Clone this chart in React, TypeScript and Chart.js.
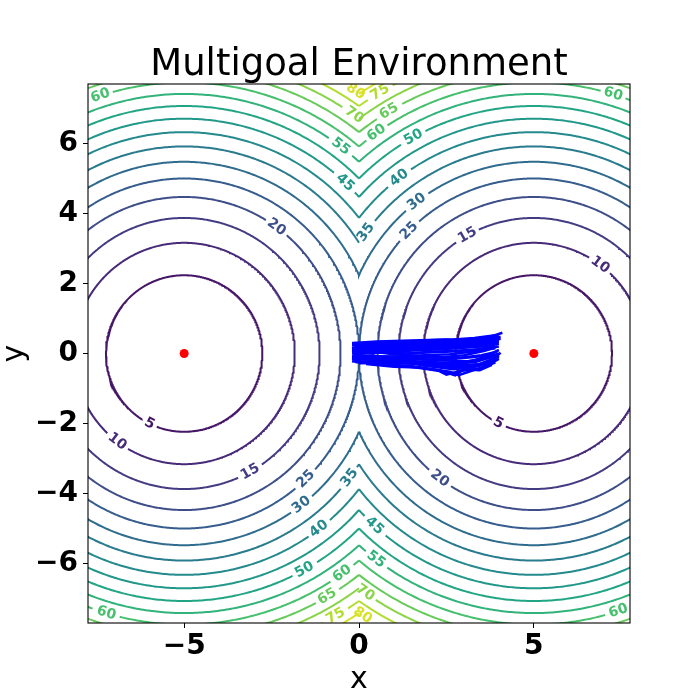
import React, { useEffect, useRef } from 'react';
import { Chart, registerables } from 'chart.js';

Chart.register(...registerables);

// ---------- data ----------
const TITLE = 'Multigoal Environment';
const X_LABEL = 'x';
const Y_LABEL = 'y';
const X_MIN = -7.75;
const X_MAX = 7.75;
const Y_MIN = -7.7;
const Y_MAX = 7.7;
const X_TICKS = [-5, 0, 5];
const Y_TICKS = [-6, -4, -2, 0, 2, 4, 6];

const GOALS_X = [-5, 5];
const GOALS_Y = [0, 0];

const LEVELS = [5, 10, 15, 20, 25, 30, 35, 40, 45, 50, 55, 60, 65, 70, 75, 80];
const CMAP_MIN = 0;
const CMAP_MAX = 85;

// [level, goal x, polar angle around that goal in degrees]
const CONTOUR_LABELS: [number, number, number][] = [
  [60, -5, 108], [80, -5, 56.8], [75, 5, 120.5], [70, -5, 54.5], [65, 5, 120.9],
  [60, 5, 125.5], [55, -5, 52.9], [50, 5, 119.1], [45, -5, 46.7], [40, 5, 127.5],
  [35, 5, 144.2], [30, 5, 127.7], [25, 5, 135.5], [15, 5, 119.4], [20, -5, 53.8],
  [10, 5, 53.2], [60, 5, 73],
  [15, -5, -60.8], [25, -5, -45.9], [35, -5, -36.9], [20, 5, -127], [30, -5, -52.2],
  [40, -5, -52.4], [45, 5, -132.8], [50, -5, -60.9], [55, 5, -127.5], [60, -5, -54.3],
  [65, -5, -59.5], [70, 5, -125.2], [75, -5, -60], [80, 5, -123.2], [5, -5, -116.4],
  [10, -5, -127.3], [60, -5, -106.7], [5, 5, -117], [60, 5, -71.8],
];

const TRAJ_1 = [[-0.2, 0.05], [0.4, 0.12], [1.0, 0.16], [1.6, 0.2], [2.2, 0.25], [2.8, 0.3], [3.4, 0.36], [4.1, 0.59]];
const TRAJ_2 = [[-0.18, -0.02], [0.5, 0.02], [1.1, 0.06], [1.8, 0.1], [2.4, 0.12], [3.0, 0.18], [3.6, 0.25], [4.0, 0.32]];
const TRAJ_3 = [[-0.15, 0.2], [0.3, 0.28], [0.9, 0.3], [1.5, 0.32], [2.0, 0.36], [2.6, 0.38], [3.1, 0.4], [3.6, 0.45], [4.0, 0.5]];
const TRAJ_4 = [[-0.2, -0.15], [0.4, -0.18], [1.0, -0.2], [1.6, -0.22], [2.2, -0.25], [2.8, -0.28], [3.3, -0.2], [3.7, -0.05], [4.0, 0.1]];
const TRAJ_5 = [[-0.1, 0.1], [0.6, 0.15], [1.3, 0.12], [2.0, 0.18], [2.7, 0.2], [3.3, 0.24], [3.8, 0.3]];
const TRAJ_6 = [[-0.2, -0.08], [0.5, -0.1], [1.2, -0.08], [1.9, -0.05], [2.6, -0.02], [3.2, 0.05], [3.9, 0.15]];
const TRAJ_7 = [[-0.15, -0.2], [0.3, -0.25], [0.9, -0.32], [1.5, -0.36], [2.1, -0.45], [2.6, -0.52], [2.85, -0.62], [3.2, -0.5], [3.6, -0.38], [4.0, -0.15]];
const TRAJ_8 = [[-0.1, 0.25], [0.6, 0.3], [1.3, 0.33], [2.0, 0.38], [2.7, 0.4], [3.3, 0.44], [3.9, 0.52]];
const TRAJ_9 = [[-0.2, -0.22], [0.5, -0.3], [1.2, -0.35], [1.8, -0.42], [2.3, -0.5], [2.5, -0.6], [2.9, -0.5], [3.5, -0.42], [3.9, -0.25]];
const TRAJ_10 = [[-0.2, 0.0], [0.7, 0.05], [1.4, 0.0], [2.1, 0.05], [2.8, 0.08], [3.4, 0.12], [4.0, 0.2]];
const TRAJ_11 = [[-0.1, -0.12], [0.6, -0.15], [1.3, -0.14], [2.0, -0.18], [2.7, -0.15], [3.3, -0.1], [3.9, -0.02]];
const TRAJ_12 = [[-0.15, 0.15], [0.5, 0.2], [1.2, 0.22], [1.9, 0.25], [2.5, 0.28], [3.1, 0.3], [3.7, 0.35], [4.05, 0.42]];
const TRAJ_13 = [[-0.2, 0.08], [0.8, 0.02], [1.5, -0.05], [2.2, -0.1], [2.9, -0.12], [3.5, -0.05], [3.95, 0.05]];
const TRAJ_14 = [[-0.1, -0.05], [0.7, -0.22], [1.4, -0.28], [2.1, -0.32], [2.8, -0.38], [3.4, -0.32], [3.85, -0.15]];
const TRAJ_15 = [[0.0, 0.18], [0.9, 0.25], [1.7, 0.2], [2.4, 0.22], [3.0, 0.26], [3.5, 0.32], [4.0, 0.4]];
const TRAJ_16 = [[-0.2, -0.1], [0.4, -0.05], [1.1, -0.25], [1.7, -0.3], [2.3, -0.35], [2.9, -0.42], [3.3, -0.38], [3.75, -0.2], [4.05, 0.02]];
const TRAJ_17 = [[-0.15, 0.3], [0.5, 0.34], [1.5, 0.37], [2.5, 0.4], [3.2, 0.38], [3.7, 0.42]];
const TRAJ_18 = [[0.2, -0.3], [1.0, -0.38], [1.7, -0.4], [2.3, -0.48], [2.75, -0.62], [3.0, -0.45], [3.45, -0.48], [3.8, -0.32]];
const TRAJ_19 = [[-0.2, 0.12], [0.5, 0.08], [1.2, 0.1], [2.0, 0.12], [2.8, 0.15], [3.5, 0.2], [4.0, 0.28]];
const TRAJ_20 = [[-0.15, -0.18], [0.6, -0.08], [1.4, -0.1], [2.2, -0.12], [3.0, -0.05], [3.6, 0.08], [3.95, 0.2]];
const TRAJ_21 = [[-0.2, 0.25], [0.8, 0.2], [1.6, 0.26], [2.4, 0.3], [3.2, 0.34], [3.8, 0.4]];
const TRAJ_22 = [[-0.1, -0.25], [0.8, -0.2], [1.6, -0.15], [2.4, -0.2], [3.1, -0.22], [3.7, -0.12], [4.0, 0.0]];
const TRAJ_23 = [[-0.2, 0.18], [0.4, 0.05], [1.0, -0.02], [1.7, 0.02], [2.5, 0.05], [3.3, 0.1], [3.9, 0.22]];
const TRAJ_24 = [[0.0, -0.28], [0.9, -0.26], [1.8, -0.3], [2.6, -0.35], [3.2, -0.32], [3.7, -0.28], [4.0, -0.1]];
const TRAJ_25 = [[-0.2, 0.3], [0.7, 0.27], [1.6, 0.3], [2.3, 0.34], [3.0, 0.35], [3.6, 0.38], [4.05, 0.48]];
const TRAJ_26 = [[-0.15, 0.0], [0.5, -0.15], [1.2, -0.18], [1.9, -0.28], [2.6, -0.3], [3.3, -0.25], [3.8, -0.1]];
const TRAJ_27 = [[0.0, 0.22], [0.8, 0.12], [1.5, 0.16], [2.3, 0.16], [3.0, 0.22], [3.6, 0.28], [4.0, 0.36]];
const TRAJ_28 = [[-0.2, -0.12], [0.6, -0.22], [1.3, -0.25], [2.0, -0.36], [2.7, -0.45], [3.2, -0.4], [3.7, -0.3], [4.0, -0.05]];

const TRAJECTORIES = [
  TRAJ_1, TRAJ_2, TRAJ_3, TRAJ_4, TRAJ_5, TRAJ_6, TRAJ_7, TRAJ_8, TRAJ_9, TRAJ_10,
  TRAJ_11, TRAJ_12, TRAJ_13, TRAJ_14, TRAJ_15, TRAJ_16, TRAJ_17, TRAJ_18, TRAJ_19,
  TRAJ_20, TRAJ_21, TRAJ_22, TRAJ_23, TRAJ_24, TRAJ_25, TRAJ_26, TRAJ_27, TRAJ_28,
];

// ---------- style ----------
const FONT = '"DejaVu Sans", "Liberation Sans", sans-serif';
const LABEL_FONT_PX = 14;
const PX_PER_UNIT = 35;
const VIRIDIS = ['#440154', '#482475', '#414487', '#355f8d', '#2a788e', '#21918c', '#22a884', '#44bf70', '#7ad151', '#bddf26', '#fde725'];

function hexToRgb(h: string) {
  return [parseInt(h.slice(1, 3), 16), parseInt(h.slice(3, 5), 16), parseInt(h.slice(5, 7), 16)];
}
function viridis(level: number) {
  let t = (level - CMAP_MIN) / (CMAP_MAX - CMAP_MIN);
  t = Math.max(0, Math.min(1, t));
  const p = t * (VIRIDIS.length - 1);
  const i = Math.min(VIRIDIS.length - 2, Math.floor(p));
  const f = p - i;
  const a = hexToRgb(VIRIDIS[i]);
  const b = hexToRgb(VIRIDIS[i + 1]);
  const c = a.map((v, k) => Math.round(v + (b[k] - v) * f));
  return `rgb(${c[0]},${c[1]},${c[2]})`;
}

function labelHalfGapDeg(level: number, r: number) {
  const w = String(level).length * 0.696 * LABEL_FONT_PX;
  return ((w / 2 + 3) / (r * PX_PER_UNIT)) * 180 / Math.PI;
}

// contour of cost = min over goals of squared distance: circle of radius sqrt(level)
function arcPoints(gx: number, level: number) {
  const r = Math.sqrt(level);
  let a0: number;
  let a1: number;
  if (r <= Math.abs(gx)) {
    a0 = -180; a1 = 180;
  } else {
    const t = Math.acos(-gx / r) * 180 / Math.PI;
    if (gx > 0) { a0 = -t; a1 = t; } else { a0 = t; a1 = 360 - t; }
  }
  const gaps = CONTOUR_LABELS.filter((l) => l[0] === level && l[1] === gx).map((l) => {
    let c = l[2];
    while (c < a0) c += 360;
    while (c >= a0 + 360) c -= 360;
    const h = labelHalfGapDeg(level, r);
    return [c - h, c + h];
  });
  const pts: { x: number; y: number }[] = [];
  let broken = false;
  const N = Math.ceil((a1 - a0) / 0.5);
  for (let i = 0; i <= N; i++) {
    const a = a0 + ((a1 - a0) * i) / N;
    const inGap = gaps.some(([g0, g1]) => (a > g0 && a < g1) || (a + 360 > g0 && a + 360 < g1));
    if (inGap) {
      if (!broken) { pts.push({ x: NaN, y: NaN }); broken = true; }
      continue;
    }
    broken = false;
    const rad = (a * Math.PI) / 180;
    pts.push({ x: gx + r * Math.cos(rad), y: r * Math.sin(rad) });
  }
  return pts;
}

const fmt = (v: number) => (v < 0 ? '\u2212' + Math.abs(v) : String(v));

const framePlugin = {
  id: 'frame',
  afterDraw(chart: any) {
    const { ctx, chartArea } = chart;
    ctx.save();
    ctx.strokeStyle = '#000';
    ctx.lineWidth = 1.1;
    ctx.strokeRect(chartArea.left, chartArea.top, chartArea.right - chartArea.left, chartArea.bottom - chartArea.top);
    ctx.restore();
  },
};

const contourLabelPlugin = {
  id: 'contourLabels',
  afterDatasetsDraw(chart: any) {
    const { ctx, chartArea } = chart;
    const xs = chart.scales.x;
    const ys = chart.scales.y;
    ctx.save();
    ctx.beginPath();
    ctx.rect(chartArea.left, chartArea.top, chartArea.right - chartArea.left, chartArea.bottom - chartArea.top);
    ctx.clip();
    ctx.font = `bold ${LABEL_FONT_PX}px ${FONT}`;
    ctx.textAlign = 'center';
    ctx.textBaseline = 'middle';
    for (const [level, gx, ang] of CONTOUR_LABELS) {
      const r = Math.sqrt(level);
      const rad = (ang * Math.PI) / 180;
      const d = 0.01;
      const px = xs.getPixelForValue(gx + r * Math.cos(rad));
      const py = ys.getPixelForValue(r * Math.sin(rad));
      const p1x = xs.getPixelForValue(gx + r * Math.cos(rad - d));
      const p1y = ys.getPixelForValue(r * Math.sin(rad - d));
      const p2x = xs.getPixelForValue(gx + r * Math.cos(rad + d));
      const p2y = ys.getPixelForValue(r * Math.sin(rad + d));
      let rot = Math.atan2(p2y - p1y, p2x - p1x);
      if (rot > Math.PI / 2) rot -= Math.PI;
      if (rot < -Math.PI / 2) rot += Math.PI;
      ctx.save();
      ctx.translate(px, py);
      ctx.rotate(rot);
      ctx.fillStyle = viridis(level);
      ctx.fillText(String(level), 0, 0);
      ctx.restore();
    }
    ctx.restore();
  },
};

export default function App() {
  const ref = useRef<HTMLCanvasElement>(null);

  useEffect(() => {
    document.body.style.margin = '0';
    const datasets: any[] = [];
    TRAJECTORIES.forEach((tr) => {
      datasets.push({
        data: tr.map(([x, y]) => ({ x, y })),
        showLine: true,
        borderColor: '#0000ff',
        backgroundColor: '#0000ff',
        borderWidth: 2.6,
        pointRadius: 0,
        pointHoverRadius: 0,
        order: 0,
        clip: 0,
      });
    });
    datasets.push({
      data: GOALS_X.map((x, i) => ({ x, y: GOALS_Y[i] })),
      showLine: false,
      pointRadius: 4.5,
      pointHoverRadius: 4.5,
      backgroundColor: '#ff0000',
      borderColor: '#ff0000',
      borderWidth: 0,
      order: 1,
    });
    GOALS_X.forEach((gx) => {
      LEVELS.forEach((level) => {
        datasets.push({
          data: arcPoints(gx, level),
          showLine: true,
          spanGaps: false,
          borderColor: viridis(level),
          borderWidth: 2,
          pointRadius: 0,
          pointHoverRadius: 0,
          order: 2,
          clip: 0,
        });
      });
    });

    const tickFont = { family: FONT, size: 28, weight: 'bold' as const };
    const chart = new Chart(ref.current as HTMLCanvasElement, {
      type: 'scatter',
      data: { datasets },
      options: {
        animation: false,
        responsive: false,
        devicePixelRatio: 1,
        events: [],
        layout: { padding: { left: 0, right: 70, top: 0, bottom: 0 } },
        plugins: {
          legend: { display: false },
          tooltip: { enabled: false },
          title: {
            display: true,
            text: TITLE,
            fullSize: false,
            color: '#000',
            font: { family: FONT, size: 37, weight: 'normal', lineHeight: 1.0 },
            padding: { top: 46.5, bottom: 0.5 },
          },
        },
        scales: {
          x: {
            type: 'linear',
            min: X_MIN,
            max: X_MAX,
            afterFit: (s: any) => { s.height = 77; },
            afterBuildTicks: (s: any) => { s.ticks = X_TICKS.map((v) => ({ value: v })); },
            ticks: { color: '#000', font: tickFont, padding: 2.2, autoSkip: false, maxRotation: 0, callback: (v: any) => fmt(Number(v)) },
            grid: { display: true, drawOnChartArea: false, drawTicks: true, tickLength: 5, tickColor: '#000', tickWidth: 1, color: '#000' },
            border: { display: false },
            title: { display: true, text: X_LABEL, color: '#000', font: { family: FONT, size: 30, lineHeight: 1.2 }, padding: { top: 0, bottom: 1.7 } },
          },
          y: {
            type: 'linear',
            min: Y_MIN,
            max: Y_MAX,
            afterFit: (s: any) => { s.width = 88; },
            afterBuildTicks: (s: any) => { s.ticks = Y_TICKS.map((v) => ({ value: v })); },
            ticks: { color: '#000', font: tickFont, padding: 5, autoSkip: false, callback: (v: any) => fmt(Number(v)) },
            grid: { display: true, drawOnChartArea: false, drawTicks: true, tickLength: 5, tickColor: '#000', tickWidth: 1, color: '#000' },
            border: { display: false },
            title: { display: true, text: Y_LABEL, color: '#000', font: { family: FONT, size: 30, lineHeight: 1.0 }, padding: 0 },
          },
        },
      } as any,
      plugins: [contourLabelPlugin, framePlugin],
    });
    return () => chart.destroy();
  }, []);

  return (
    <div style={{ width: 700, height: 700, background: '#fff' }}>
      <canvas ref={ref} width={700} height={700} style={{ display: 'block' }} />
    </div>
  );
}
